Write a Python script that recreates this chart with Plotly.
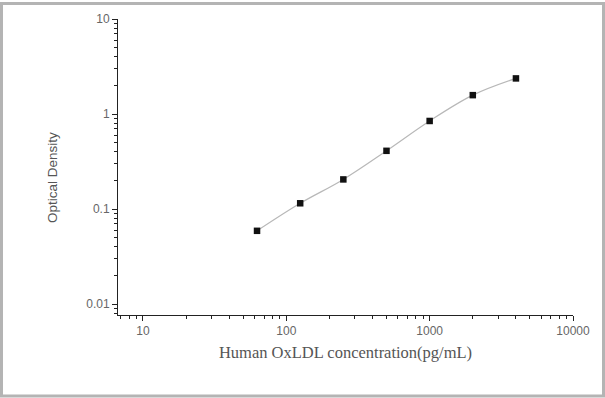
import plotly.graph_objects as go

conc = [62.5, 125, 250, 500, 1000, 2000, 4000]
od = [0.059, 0.115, 0.205, 0.41, 0.845, 1.58, 2.37]

x_tickvals = [10, 100, 1000, 10000]
x_ticktext = ["10", "100", "1000", "10000"]
y_tickvals = [0.01, 0.1, 1, 10]
y_ticktext = ["0.01", "0.1", "1", "10"]
x_minor = [m * 10 ** d for d in range(0, 4) for m in range(2, 10)]
y_minor = [m * 10.0 ** d for d in range(-3, 1) for m in range(2, 10)]

W, H = 605, 398
ml, mr, mt, mb = 118, 32, 17, 83
pw, ph = W - ml - mr, H - mt - mb

def px2paper_x(px):
    return (px - ml) / pw

def px2paper_y(py):
    return 1 - (py - mt) / ph

fig = go.Figure()
fig.add_trace(go.Scatter(x=conc, y=od, mode="lines", line=dict(color="#b8b8b8", width=1.2, shape="spline", smoothing=1.0),
                         hoverinfo="skip", showlegend=False))
fig.add_trace(go.Scatter(x=conc, y=od, mode="markers", marker=dict(symbol="square", size=6.5, color="#111111"),
                         showlegend=False))

axis_common = dict(type="log", showgrid=False, zeroline=False, showline=True, linecolor="#222", linewidth=1,
                   ticks="outside", ticklen=5, tickcolor="#222", mirror=False,
                   tickfont=dict(family="Liberation Sans, Arial", size=12, color="#666"))

fig.update_xaxes(range=[0.826, 4.0], tickvals=x_tickvals, ticktext=x_ticktext,
                 minor=dict(tickmode="array", tickvals=x_minor, ticks="outside", ticklen=3, tickcolor="#222", showgrid=False),
                 title=dict(text="Human OxLDL concentration(pg/mL)",
                            font=dict(family="Liberation Serif, Times New Roman", size=16.5, color="#555"), standoff=9),
                 **axis_common)
fig.update_yaxes(range=[-2.115, 1.0], tickvals=y_tickvals, ticktext=y_ticktext,
                 minor=dict(tickmode="array", tickvals=y_minor, ticks="outside", ticklen=3, tickcolor="#222", showgrid=False),
                 **axis_common)

fig.add_annotation(text="Optical Density", xref="paper", yref="paper",
                   x=px2paper_x(53), y=px2paper_y(177), xanchor="center", yanchor="middle",
                   textangle=-90, showarrow=False,
                   font=dict(family="Liberation Sans, Arial", size=13.5, color="#555"))

frame_col = "#b4b4b4"
fig.add_shape(type="rect", xref="paper", yref="paper",
              x0=px2paper_x(1.5), x1=px2paper_x(W - 1.5), y0=px2paper_y(H - 1.5), y1=px2paper_y(1.5),
              line=dict(color=frame_col, width=3), fillcolor="rgba(0,0,0,0)", layer="below")

fig.update_layout(width=W, height=H, margin=dict(l=ml, r=mr, t=mt, b=mb),
                  plot_bgcolor="white", paper_bgcolor="white")

fig.write_html("out.html")
